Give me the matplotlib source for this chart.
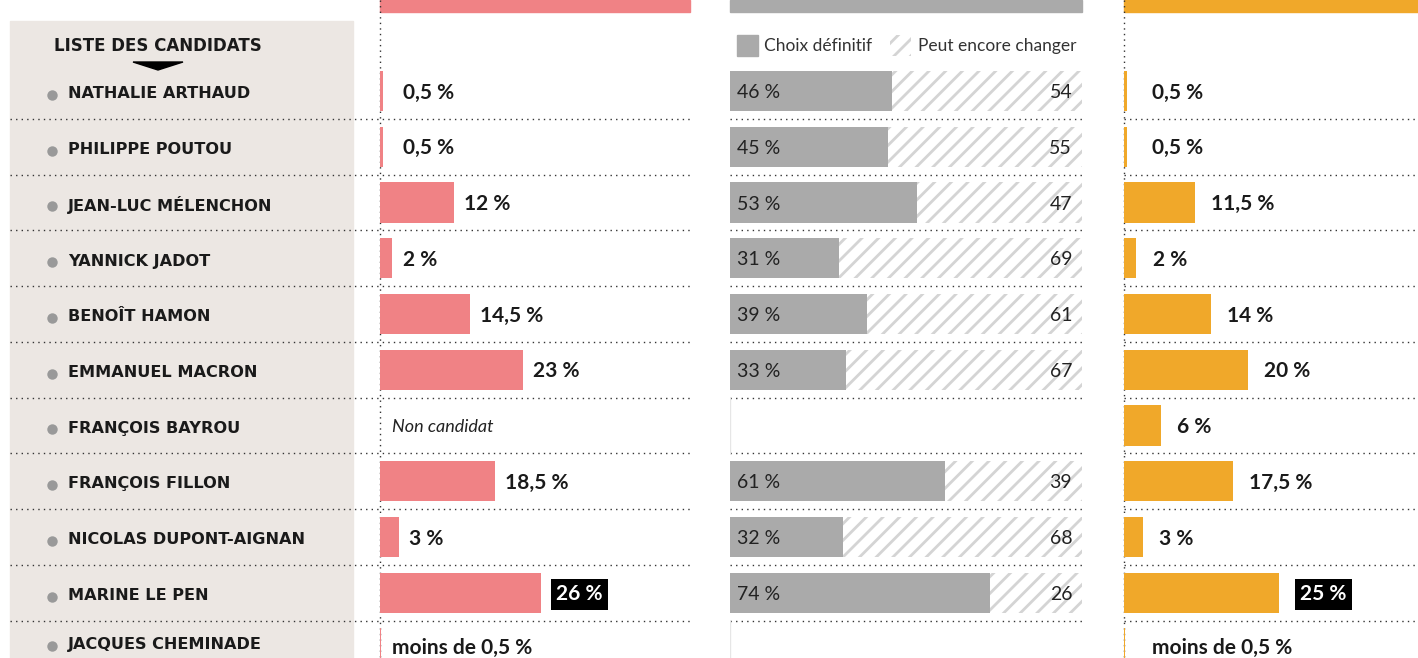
import matplotlib.pyplot as plt
from matplotlib.patches import Rectangle, Polygon

plt.rcParams['font.family'] = ['Lato', 'DejaVu Sans']
plt.rcParams['hatch.linewidth'] = 2.0

# Données
candidats = ["NATHALIE ARTHAUD", "PHILIPPE POUTOU", "JEAN-LUC MÉLENCHON", "YANNICK JADOT",
             "BENOÎT HAMON", "EMMANUEL MACRON", "FRANÇOIS BAYROU", "FRANÇOIS FILLON",
             "NICOLAS DUPONT-AIGNAN", "MARINE LE PEN", "JACQUES CHEMINADE"]
# intentions de vote (None = non candidat, 0.2 = moins de 0,5 %)
vague1 = [0.5, 0.5, 12, 2, 14.5, 23, None, 18.5, 3, 26, 0.2]
vague1_txt = ["0,5 %", "0,5 %", "12 %", "2 %", "14,5 %", "23 %", "Non candidat",
              "18,5 %", "3 %", "26 %", "moins de 0,5 %"]
definitif = [46, 45, 53, 31, 39, 33, None, 61, 32, 74, None]
vague2 = [0.5, 0.5, 11.5, 2, 14, 20, 6, 17.5, 3, 25, 0.2]
vague2_txt = ["0,5 %", "0,5 %", "11,5 %", "2 %", "14 %", "20 %", "6 %",
              "17,5 %", "3 %", "25 %", "moins de 0,5 %"]

ROSE = "#f08285"
GRIS = "#aaaaaa"
ORANGE = "#f0a82a"
BEIGE = "#ece7e3"

W, H = 1418, 658
Y0, PAS = 91, 55.74
LARGE = ['DejaVu Sans']  # police large pour les noms en capitales espacées


def row(ypx):
    return (ypx - Y0) / PAS


fig = plt.figure(figsize=(W / 100, H / 100), dpi=100)
fig.patch.set_facecolor("white")

# fond / mise en page en pixels (x) et rangées (y)
bg = fig.add_axes([0, 0, 1, 1])
bg.set_xlim(0, W)
bg.set_ylim(row(H), row(0))
bg.axis("off")

bg.add_patch(Rectangle((10, row(21)), 343, row(H) - row(21), color=BEIGE, zorder=0))
bg.text(158, row(46), "LISTE DES CANDIDATS", ha="center", va="center",
        fontsize=12, fontweight="bold", family=LARGE, color="#1a1a1a")
bg.add_patch(Polygon([(133, row(62)), (183, row(62)), (158, row(70))],
                     closed=True, color="black"))

for x0, x1, c in [(380, 690, ROSE), (730, 1082, GRIS), (1124, 1418, ORANGE)]:
    bg.add_patch(Rectangle((x0, row(12)), x1 - x0, row(0) - row(12), color=c, zorder=1))

n = len(candidats)
sep = dict(color="#333333", lw=1, linestyle=(0, (1, 3)), zorder=1)
for i in range(n - 1):
    y = i + 0.5
    bg.plot([10, 690], [y, y], **sep)
    bg.plot([730, 1082], [y, y], **sep)
    bg.plot([1124, 1418], [y, y], **sep)
for x in (380, 1124):
    bg.plot([x, x], [row(0), row(H)], **sep)

for i, nom in enumerate(candidats):
    y = i + 0.05 if i < n - 1 else i - 0.07
    bg.plot(52, y + 0.02, "o", ms=7.5, color="#999999", mec="none")
    bg.text(68, y, nom, ha="left", va="center", fontsize=11.6,
            fontweight="bold", family=LARGE, color="#1a1a1a")


def colonne(x0, x1, xmax):
    ax = fig.add_axes([x0 / W, 0, (x1 - x0) / W, 1])
    ax.set_xlim(0, xmax)
    ax.set_ylim(row(H), row(0))
    ax.axis("off")
    ax.patch.set_visible(False)
    return ax


def barres(ax, valeurs, textes, couleur, decal, xmin, xmoins):
    vmax = max(v for v in valeurs if v is not None)
    for i, (v, t) in enumerate(zip(valeurs, textes)):
        if v is None:
            ax.text(1.9, i + 0.03, t, ha="left", va="center", fontsize=13,
                    fontstyle="italic", color="#222222")
            continue
        ax.barh(i, v, height=0.72, color=couleur, zorder=2)
        if v == vmax:
            ax.text(v + decal + 0.8, i + 0.03, t, ha="left", va="center", fontsize=15,
                    fontweight="bold", color="white",
                    bbox=dict(boxstyle="square,pad=0.25", fc="black", ec="none"))
        elif v < 0.5:
            ax.text(xmoins, i, t, ha="left", va="center", fontsize=15,
                    fontweight="bold", color="#1a1a1a")
        else:
            ax.text(max(v + decal, xmin), i + 0.03, t, ha="left", va="center",
                    fontsize=15, fontweight="bold", color="#1a1a1a")


# colonne rose
ax1 = colonne(380, 690, 310 / 6.2)
barres(ax1, vague1, vague1_txt, ROSE, 1.6, 3.7, 1.9)

# colonne orange
ax3 = colonne(1124, 1418, 294 / 6.2)
barres(ax3, vague2, vague2_txt, ORANGE, 2.6, 4.5, 4.5)

# colonne grise : choix définitif / peut encore changer
ax2 = colonne(730, 1082, 100)
for i, d in enumerate(definitif):
    if d is None:
        ax2.plot([0, 0], [i - 0.5, i + 0.5], color="#e6e6e6", lw=1)
        continue
    ax2.barh(i, d, height=0.72, color=GRIS, zorder=2)
    ax2.barh(i, 100 - d, left=d, height=0.72, color="white", hatch="//",
             edgecolor="#d4d4d4", linewidth=0, zorder=2)
    ax2.text(2, i + 0.03, f"{d} %", ha="left", va="center", fontsize=14,
             color="#222222", zorder=3)
    ax2.text(97.2, i + 0.03, f"{100 - d}", ha="right", va="center", fontsize=14,
             color="#222222", zorder=3)

# légende
ky0, ky1 = row(35), row(56)
ax2.add_patch(Rectangle((2, ky0), 6, ky1 - ky0, color=GRIS))
ax2.text(9.7, row(46), "Choix définitif", ha="left", va="center", fontsize=12.5,
         color="#333333")
ax2.add_patch(Rectangle((45.5, ky0), 6, ky1 - ky0, facecolor="white", hatch="//",
                        edgecolor="#d4d4d4", linewidth=0))
ax2.text(53.4, row(46), "Peut encore changer", ha="left", va="center", fontsize=12.5,
         color="#333333")

fig.savefig("out.png", dpi=100)
